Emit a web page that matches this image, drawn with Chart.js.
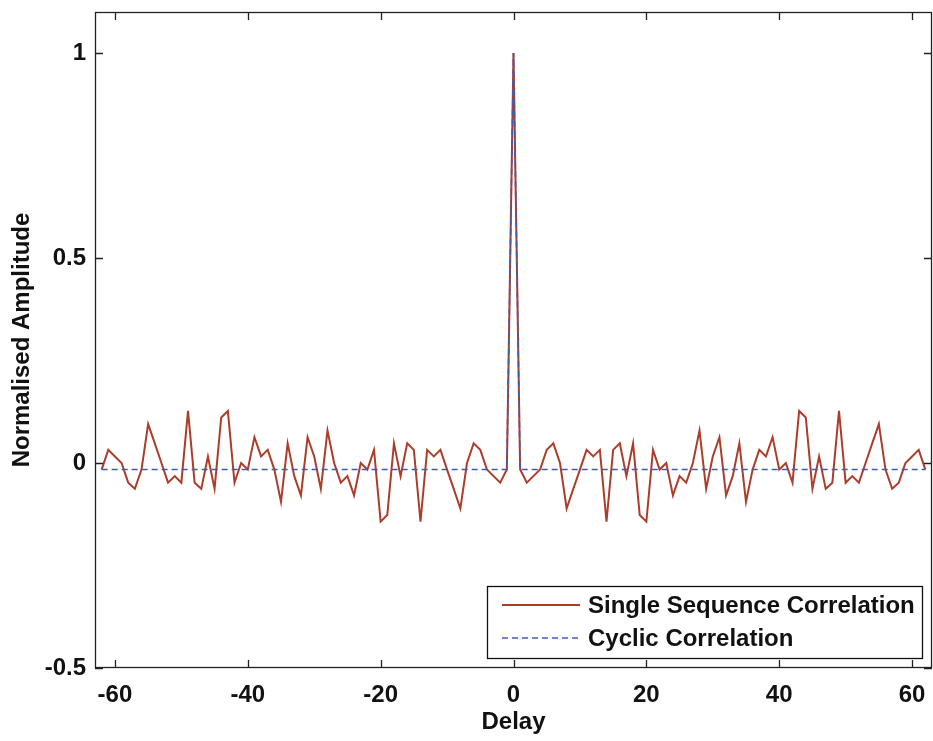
<!DOCTYPE html>
<html>
<head>
<meta charset="utf-8">
<script src="https://cdn.jsdelivr.net/npm/chart.js@4"></script>
<style>
  body { margin: 0; background: #fff; }
</style>
</head>
<body>
<canvas id="myChart" width="933" height="741"></canvas>
<script>
// delays of the aperiodic correlation
const delays = [
  -62, -61, -60, -59, -58, -57, -56, -55, -54, -53, -52, -51, -50, -49, -48, -47,
  -46, -45, -44, -43, -42, -41, -40, -39, -38, -37, -36, -35, -34, -33, -32, -31,
  -30, -29, -28, -27, -26, -25, -24, -23, -22, -21, -20, -19, -18, -17, -16, -15,
  -14, -13, -12, -11, -10, -9, -8, -7, -6, -5, -4, -3, -2, -1,
  0,
  1, 2, 3, 4, 5, 6, 7, 8, 9, 10, 11, 12, 13, 14, 15, 16,
  17, 18, 19, 20, 21, 22, 23, 24, 25, 26, 27, 28, 29, 30, 31, 32,
  33, 34, 35, 36, 37, 38, 39, 40, 41, 42, 43, 44, 45, 46, 47, 48,
  49, 50, 51, 52, 53, 54, 55, 56, 57, 58, 59, 60, 61, 62
];

// single sequence (aperiodic) correlation
const singleValues = [
  -0.016, 0.032, 0.016, 0, -0.048, -0.063, -0.016, 0.095, 0.048, 0, -0.048, -0.032, -0.048, 0.127, -0.048, -0.063,
  0.016, -0.063, 0.111, 0.127, -0.048, 0, -0.016, 0.063, 0.016, 0.032, -0.016, -0.095, 0.048, -0.032, -0.079, 0.063,
  0.016, -0.063, 0.079, 0, -0.048, -0.032, -0.079, 0, -0.016, 0.032, -0.143, -0.127, 0.048, -0.032, 0.048, 0.032,
  -0.143, 0.032, 0.016, 0.032, -0.016, -0.063, -0.111, 0, 0.048, 0.032, -0.016, -0.032, -0.048, -0.016,
  1,
  -0.016, -0.048, -0.032, -0.016, 0.032, 0.048, 0, -0.111, -0.063, -0.016, 0.032, 0.016, 0.032, -0.143, 0.032, 0.048,
  -0.032, 0.048, -0.127, -0.143, 0.032, -0.016, 0, -0.079, -0.032, -0.048, 0, 0.079, -0.063, 0.016, 0.063, -0.079,
  -0.032, 0.048, -0.095, -0.016, 0.032, 0.016, 0.063, -0.016, 0, -0.048, 0.127, 0.111, -0.063, 0.016, -0.063, -0.048,
  0.127, -0.048, -0.032, -0.048, 0, 0.048, 0.095, -0.016, -0.063, -0.048, 0, 0.016, 0.032, -0.016
];

// cyclic correlation: flat off-peak level, one spike at zero delay
const cyclicDelays = [-62, -1, 0, 1, 62];
const cyclicValues = [-0.016, -0.016, 1, -0.016, -0.016];

const xTicks = [-60, -40, -20, 0, 20, 40, 60];
const yTicks = [-0.5, 0, 0.5, 1];

const seriesNames = ['Single Sequence Correlation', 'Cyclic Correlation'];

const fontFamily = '"Liberation Sans", Arial, sans-serif';
Chart.defaults.color = '#111';
Chart.defaults.font.family = fontFamily;
Chart.defaults.font.size = 24;
Chart.defaults.font.weight = 'bold';

// frame, inward tick marks and the boxed legend, matlab style
const frameAndLegend = {
  id: 'frameAndLegend',
  afterDraw(chart) {
    const ctx = chart.ctx;
    const a = chart.chartArea;
    const x = chart.scales.x;
    const y = chart.scales.y;
    ctx.save();
    ctx.strokeStyle = '#222';
    ctx.lineWidth = 1.3;
    ctx.strokeRect(a.left + 0.5, a.top + 0.5, a.right - a.left - 1, a.bottom - a.top - 1);

    ctx.beginPath();
    xTicks.forEach(v => {
      const px = Math.round(x.getPixelForValue(v)) + 0.5;
      ctx.moveTo(px, a.bottom); ctx.lineTo(px, a.bottom - 8);
      ctx.moveTo(px, a.top); ctx.lineTo(px, a.top + 8);
    });
    yTicks.forEach(v => {
      const py = Math.round(y.getPixelForValue(v)) + 0.5;
      ctx.moveTo(a.left, py); ctx.lineTo(a.left + 8, py);
      ctx.moveTo(a.right, py); ctx.lineTo(a.right - 8, py);
    });
    ctx.stroke();

    // legend
    const boxW = 435, boxH = 72;
    const bx = a.right - 10 - boxW;
    const by = a.bottom - 10 - boxH;
    ctx.fillStyle = '#fff';
    ctx.fillRect(bx, by, boxW, boxH);
    ctx.lineWidth = 1.3;
    ctx.strokeStyle = '#111';
    ctx.strokeRect(bx + 0.5, by + 0.5, boxW, boxH);

    ctx.font = 'bold 24px ' + fontFamily;
    ctx.textBaseline = 'middle';
    ctx.textAlign = 'left';
    chart.data.datasets.forEach((ds, i) => {
      const ly = by + 19 + i * 33;
      ctx.save();
      ctx.strokeStyle = ds.borderColor;
      ctx.lineWidth = ds.borderWidth;
      ctx.setLineDash(ds.borderDash || []);
      ctx.beginPath();
      ctx.moveTo(bx + 15, ly);
      ctx.lineTo(bx + 93, ly);
      ctx.stroke();
      ctx.restore();
      ctx.fillStyle = '#111';
      ctx.fillText(seriesNames[i], bx + 101, ly + 1);
    });
    ctx.restore();
  }
};

const ctx = document.getElementById('myChart').getContext('2d');

const myChart = new Chart(ctx, {
  type: 'line',
  data: {
    datasets: [{
      label: seriesNames[0],
      data: delays.map((d, i) => ({ x: d, y: singleValues[i] })),
      borderColor: '#ad3d2b',
      borderWidth: 2,
      pointRadius: 0,
      tension: 0,
      order: 2
    }, {
      label: seriesNames[1],
      data: cyclicDelays.map((d, i) => ({ x: d, y: cyclicValues[i] })),
      borderColor: '#3f5cb5',
      borderWidth: 1.6,
      borderDash: [6, 4],
      pointRadius: 0,
      tension: 0,
      order: 1
    }]
  },
  options: {
    responsive: false,
    animation: false,
    devicePixelRatio: 1,
    layout: { autoPadding: false, padding: { top: 12, right: 1, left: 0, bottom: 0 } },
    plugins: {
      legend: { display: false },
      tooltip: { enabled: false }
    },
    scales: {
      x: {
        type: 'linear',
        min: -63,
        max: 63,
        grid: { display: false },
        border: { display: false },
        afterBuildTicks: s => { s.ticks = xTicks.map(v => ({ value: v })); },
        afterFit: s => {
          s.height = 73;
          s.paddingLeft = 0;
          s.paddingRight = 0;
        },
        ticks: { padding: 5, maxRotation: 0, callback: v => String(v) },
        title: { display: true, text: 'Delay', padding: { top: 0, bottom: 4 } }
      },
      y: {
        type: 'linear',
        min: -0.5,
        max: 1.1,
        grid: { display: false },
        border: { display: false },
        afterBuildTicks: s => { s.ticks = yTicks.map(v => ({ value: v })); },
        afterFit: s => {
          s.width = 95;
          s.paddingTop = 0;
          s.paddingBottom = 0;
        },
        ticks: { padding: 1, callback: v => String(v) },
        title: { display: true, text: 'Normalised Amplitude', padding: { top: 8, bottom: 0 } }
      }
    }
  },
  plugins: [frameAndLegend]
});
</script>
</body>
</html>
